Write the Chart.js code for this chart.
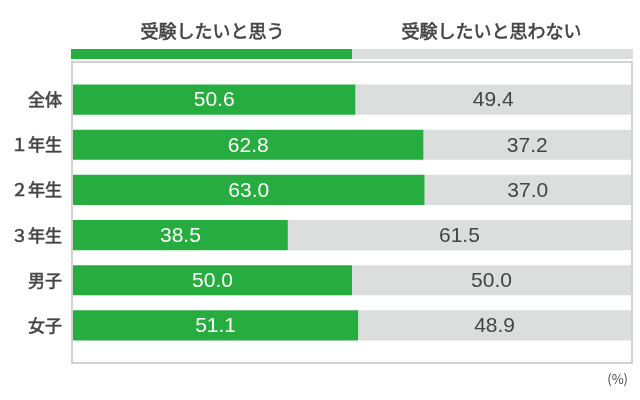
<!DOCTYPE html>
<html lang="ja">
<head>
<meta charset="utf-8">
<script src="https://cdn.jsdelivr.net/npm/chart.js@4/dist/chart.umd.min.js"></script>
<style>
  html, body { margin: 0; padding: 0; background: #fff; }
  canvas { display: block; }
</style>
</head>
<body>
<canvas id="grafico" width="640" height="400"></canvas>
<script>
const categorias = ['全体', '１年生', '２年生', '３年生', '男子', '女子'];
const seriesNombres = ['受験したいと思う', '受験したいと思わない'];
const valoresSi = [50.6, 62.8, 63.0, 38.5, 50.0, 51.1];
const valoresNo = [49.4, 37.2, 37.0, 61.5, 50.0, 48.9];
const colores = ['#26ac3f', '#dcdddd'];
const unidad = '(%)';

const fuenteJP = '"Noto Sans CJK JP", "Noto Sans", sans-serif';
const fuenteNum = '"Liberation Sans", Arial, sans-serif';

// marco, barra de leyenda, titulos y valores
const decoracion = {
    id: 'decoracion',
    beforeDatasetsDraw(chart) {
        const { ctx, chartArea: a, scales: { x } } = chart;
        ctx.save();
        // marco gris
        ctx.strokeStyle = '#d2d2d2';
        ctx.lineWidth = 2;
        ctx.strokeRect(a.left - 1, a.top - 15, a.right - a.left + 2, a.bottom - a.top + 30);
        // barra de leyenda
        const medio = x.getPixelForValue(50);
        ctx.fillStyle = colores[0];
        ctx.fillRect(a.left - 2, a.top - 28, medio - a.left + 2, 10);
        ctx.fillStyle = colores[1];
        ctx.fillRect(medio, a.top - 28, a.right + 2 - medio, 10);
        // titulos (peso medio: relleno + trazo fino)
        ctx.fillStyle = '#444';
        ctx.strokeStyle = '#444';
        ctx.lineWidth = 0.6;
        ctx.font = '18px ' + fuenteJP;
        ctx.textAlign = 'center';
        ctx.textBaseline = 'middle';
        [25, 75].forEach((v, i) => {
            ctx.fillText(seriesNombres[i], x.getPixelForValue(v), a.top - 46);
            ctx.strokeText(seriesNombres[i], x.getPixelForValue(v), a.top - 46);
        });
        ctx.restore();
    },
    afterDatasetsDraw(chart) {
        const { ctx, chartArea: a } = chart;
        ctx.save();
        ctx.textAlign = 'center';
        ctx.textBaseline = 'middle';
        ctx.font = '21px ' + fuenteNum;
        chart.data.datasets.forEach((ds, d) => {
            const meta = chart.getDatasetMeta(d);
            ctx.fillStyle = d === 0 ? '#fff' : '#444';
            meta.data.forEach((bar, i) => {
                const cx = (bar.x + bar.base) / 2;
                ctx.fillText(ds.data[i].toFixed(1), cx, bar.y + 1);
            });
        });
        ctx.fillStyle = '#444';
        ctx.font = '13px ' + fuenteJP;
        ctx.textAlign = 'right';
        ctx.fillText(unidad, a.right - 3, a.bottom + 31);
        ctx.restore();
    }
};

new Chart(document.getElementById('grafico').getContext('2d'), {
    type: 'bar',
    data: {
        labels: categorias,
        datasets: [
            { label: seriesNombres[0], data: valoresSi, backgroundColor: colores[0] },
            { label: seriesNombres[1], data: valoresNo, backgroundColor: colores[1] }
        ]
    },
    options: {
        indexAxis: 'y',
        responsive: false,
        animation: false,
        devicePixelRatio: 1,
        layout: { padding: { top: 77, right: 9, bottom: 52, left: 0 } },
        datasets: {
            bar: { barPercentage: 1, categoryPercentage: 0.667, borderWidth: 0 }
        },
        scales: {
            x: { stacked: true, min: 0, max: 100, display: false },
            y: {
                stacked: true,
                grid: { display: false },
                border: { display: false },
                ticks: {
                    color: '#444',
                    font: { family: fuenteJP, size: 17 },
                    textStrokeColor: '#444',
                    textStrokeWidth: 0.6,
                    padding: 3
                },
                afterFit: s => { s.width = 73; }
            }
        },
        plugins: {
            legend: { display: false },
            tooltip: { enabled: false }
        }
    },
    plugins: [decoracion]
});
</script>
</body>
</html>
